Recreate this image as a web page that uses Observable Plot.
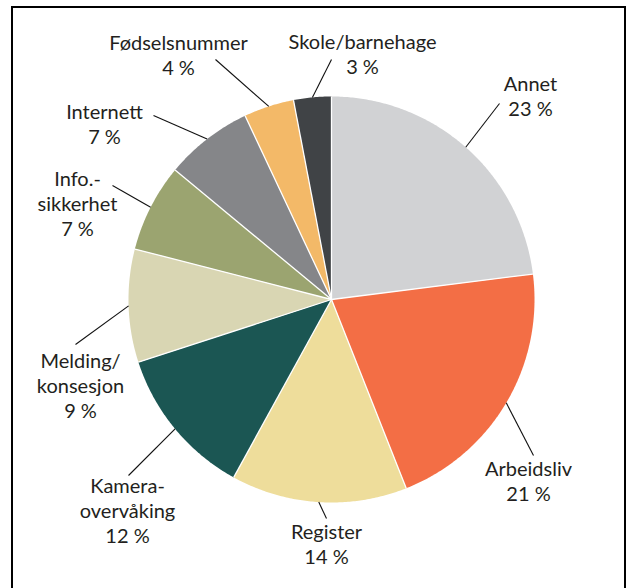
<!DOCTYPE html>
<html><head><meta charset="utf-8">
<script src="https://cdn.jsdelivr.net/npm/d3@7"></script>
<script src="https://cdn.jsdelivr.net/npm/@observablehq/plot@0.6"></script>
<style>
html,body{margin:0;padding:0;background:#fff;}
#wrap{position:relative;width:626px;height:588px;overflow:hidden;}
#chart{position:absolute;left:0;top:0;}
#border{position:absolute;left:11px;top:6px;width:611px;height:620px;border:2px solid #000;border-bottom:none;pointer-events:none;}
</style></head><body>
<div id="wrap"><div id="chart"></div><div id="border"></div></div>
<script>
// ---- data ----
const categories = ["Annet", "Arbeidsliv", "Register", "Kamera-\noverv\u00e5king", "Melding/\nkonsesjon", "Info.-\nsikkerhet", "Internett", "F\u00f8dselsnummer", "Skole/barnehage"];
const values = [23, 21, 14, 12, 9, 7, 7, 4, 3];
const percentLabels = ["23 %", "21 %", "14 %", "12 %", "9 %", "7 %", "7 %", "4 %", "3 %"];
const colors = ["#d1d2d4", "#f36e45", "#eedd9b", "#1b5653", "#d9d6b3", "#9ba470", "#858689", "#f3b968", "#404346"];

// ---- layout (pixels) ----
const cx = 331, cy = 299, r = 203;
const labelPos = [[530, 90], [528, 475], [326, 538], [127, 492], [80, 367], [77, 185], [104, 118], [178, 49], [362, 48]];
const leaderFrom = [[499, 103], [533, 455], [326, 518], [128, 475], [75, 344], [112, 185], [153, 115], [215, 59], [331, 59]];
const lineStep = 25;

const ux = px => (px - cx) / r;
const uy = py => (cy - py) / r;

const arcs = d3.pie().sort(null).value(d => d)(values);

const slices = arcs.map((a, i) => {
  const pts = [{x: 0, y: 0}];
  const n = Math.max(2, Math.ceil((a.endAngle - a.startAngle) / (Math.PI / 360)));
  for (let k = 0; k <= n; ++k) {
    const t = a.startAngle + (a.endAngle - a.startAngle) * k / n;
    pts.push({x: Math.sin(t), y: Math.cos(t)});
  }
  pts.push({x: 0, y: 0});
  return pts;
});

const boundaries = arcs.map(a => a.startAngle);

const leaders = arcs.map((a, i) => {
  const m = (a.startAngle + a.endAngle) / 2;
  return {x1: ux(leaderFrom[i][0]), y1: uy(leaderFrom[i][1]), x2: Math.sin(m), y2: Math.cos(m)};
});

const textRows = [];
categories.forEach((c, i) => {
  const lines = c.split("\n").concat([percentLabels[i]]);
  lines.forEach((t, j) => {
    textRows.push({text: t, x: ux(labelPos[i][0]), y: uy(labelPos[i][1] + j * lineStep)});
  });
});

const chart = Plot.plot({
  width: 626,
  height: 588,
  margin: 0,
  x: {domain: [-1, 1], range: [cx - r, cx + r], axis: null},
  y: {domain: [-1, 1], range: [cy + r, cy - r], axis: null},
  style: {fontFamily: "Lato, sans-serif", background: "transparent", overflow: "visible"},
  marks: [
    ...slices.map((pts, i) => Plot.line(pts, {x: "x", y: "y", fill: colors[i], stroke: "none"})),
    Plot.link(boundaries, {x1: () => 0, y1: () => 0, x2: d => Math.sin(d), y2: d => Math.cos(d), stroke: "#ffffff", strokeWidth: 1.3}),
    Plot.link(leaders, {x1: "x1", y1: "y1", x2: "x2", y2: "y2", stroke: "#111", strokeWidth: 1.1}),
    Plot.text(textRows, {x: "x", y: "y", text: "text", lineAnchor: "bottom", textAnchor: "middle", fontSize: 20, fill: "#231f20"})
  ]
});
document.getElementById("chart").appendChild(chart);
</script>
</body></html>
